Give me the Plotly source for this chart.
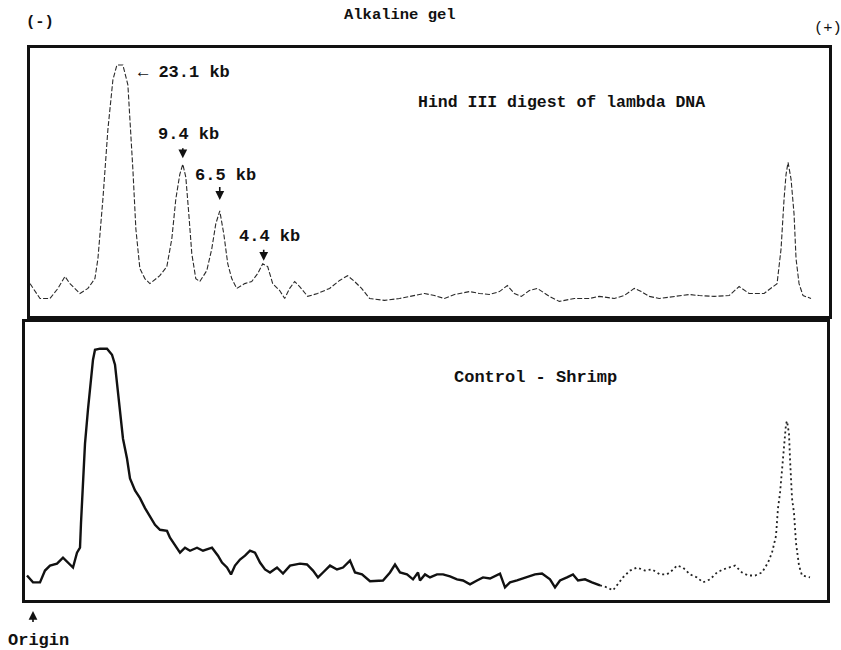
import plotly.graph_objects as go

# Densitometer scan of an alkaline agarose gel (scan position, relative absorbance %)
# Lane 1: Hind III digest of lambda DNA (size marker)
marker_pos = [0, 10, 20, 28, 35, 40, 50, 58, 65, 68, 73, 78, 83, 87, 93, 98, 103, 106, 110,
              115, 120, 130, 137, 142, 146, 150, 153, 156, 159, 162, 166, 170, 177, 182, 186,
              190, 194, 198, 202, 207, 215, 222, 228, 233, 238, 243, 250, 255, 260, 265, 270,
              278, 288, 300, 310, 318, 325, 332, 340, 355, 370, 380, 395, 405, 415, 425, 440,
              450, 460, 470, 478, 485, 492, 500, 508, 520, 530, 545, 560, 570, 585, 595, 605,
              612, 620, 630, 645, 660, 670, 685, 700, 710, 720, 735, 748, 752, 755, 757, 759,
              762, 765, 767, 770, 774, 782]
marker_abs = [11.2, 5.6, 5.6, 9.4, 13.9, 11.2, 7.5, 9.4, 13.1, 20.6, 43.1, 69.3, 88.0, 93.6,
              93.6, 86.1, 54.3, 31.8, 16.9, 13.1, 11.2, 14.2, 17.6, 28.1, 43.1, 52.4, 56.2,
              51.3, 37.5, 22.5, 13.1, 12.0, 16.1, 24.3, 33.7, 38.6, 30.0, 18.7, 13.1, 9.4, 11.2,
              12.0, 15.0, 18.7, 17.6, 11.2, 8.6, 5.6, 9.4, 12.0, 10.1, 6.4, 7.5, 9.4, 12.4, 14.2,
              12.0, 9.4, 5.6, 4.9, 5.6, 6.4, 7.5, 6.7, 5.6, 7.1, 8.2, 7.5, 7.1, 8.2, 10.5, 7.5,
              6.4, 8.6, 9.4, 6.4, 4.5, 5.6, 5.6, 6.4, 5.6, 6.7, 9.4, 8.2, 6.4, 5.6, 6.4, 7.1,
              6.7, 6.4, 6.7, 10.1, 7.5, 7.5, 11.2, 24.3, 43.1, 52.4, 56.9, 50.6, 37.5, 20.6,
              11.2, 6.7, 5.6]

# Marker bands: size label, scan position and height of each band maximum
band_labels = ["23.1 kb", "9.4 kb", "6.5 kb", "4.4 kb"]
band_pos = [90, 153, 190, 234]
band_abs = [93.6, 56.2, 38.6, 18.7]

# Lane 2: control shrimp DNA
shrimp_pos = [2, 8, 15, 20, 25, 32, 38, 43, 48, 52, 55, 56, 58, 60, 63, 66, 68, 70, 75, 82,
              87, 90, 92, 95, 98, 102, 105, 110, 115, 120, 125, 130, 135, 142, 145, 150, 155,
              160, 165, 172, 178, 187, 193, 197, 202, 206, 210, 215, 220, 225, 230, 235, 240,
              245, 252, 258, 265, 275, 282, 288, 293, 298, 305, 312, 318, 325, 330, 337, 345,
              358, 365, 370, 375, 382, 388, 393, 395, 400, 405, 412, 418, 425, 432, 438, 445,
              452, 458, 465, 475, 480, 485, 492, 500, 510, 517, 525, 530, 535, 542, 548, 553,
              560, 567, 575, 582, 588, 593, 598, 605, 612, 620, 627, 635, 642, 647, 652, 658,
              665, 672, 678, 685, 692, 698, 705, 710, 717, 723, 730, 737, 743, 747, 751, 753,
              755, 757, 759, 761, 762, 764, 765, 767, 769, 771, 774, 777, 785]
shrimp_abs = [7.9, 5.4, 5.4, 9.7, 11.5, 12.2, 14.4, 12.6, 10.8, 16.2, 18.0, 27.0, 39.6, 55.8,
              68.3, 79.9, 86.3, 89.9, 90.3, 90.3, 88.1, 84.5, 77.3, 68.3, 57.6, 50.4, 43.2, 38.8,
              36.0, 32.4, 29.5, 26.3, 24.5, 24.1, 21.6, 18.7, 16.2, 18.0, 16.9, 18.0, 16.9, 18.0,
              15.1, 12.6, 10.8, 8.3, 11.5, 13.7, 15.1, 16.9, 16.2, 12.6, 10.1, 9.0, 10.8, 8.6,
              11.5, 12.2, 11.9, 9.7, 7.2, 9.0, 11.5, 10.1, 10.8, 13.3, 9.0, 8.3, 5.8, 6.1, 9.0,
              11.9, 9.0, 8.3, 6.5, 9.0, 6.1, 8.3, 7.2, 8.3, 8.3, 7.6, 6.5, 6.1, 4.7, 6.1, 7.2,
              6.8, 8.6, 3.6, 5.4, 6.1, 7.2, 8.3, 8.6, 6.5, 3.6, 6.1, 7.2, 8.3, 6.1, 6.5, 5.4,
              4.3, 3.6, 2.5, 4.7, 7.2, 9.7, 10.8, 9.7, 10.1, 8.3, 8.3, 9.7, 11.5, 10.8, 8.3, 7.2,
              5.4, 6.5, 9.0, 10.1, 10.8, 11.5, 9.0, 7.9, 7.9, 9.0, 12.6, 16.2, 22.3, 32.4, 37.8,
              46.8, 55.8, 62.9, 64.0, 59.4, 50.4, 36.0, 30.6, 19.8, 11.5, 7.9, 7.2]

FONT = "Liberation Mono, Courier New, monospace"
INK = "#111111"

fig = go.Figure()

# marker lane: faint broken trace
fig.add_trace(go.Scatter(x=marker_pos, y=marker_abs, mode="lines",
                         line=dict(color="#2a2a2a", width=1.1, dash="5px,2px"),
                         xaxis="x", yaxis="y", hoverinfo="skip"))

# shrimp lane: heavy pen stroke, then the lighter dotted tail
split = next(i for i, p in enumerate(shrimp_pos) if p >= 575)
fig.add_trace(go.Scatter(x=shrimp_pos[:split + 1], y=shrimp_abs[:split + 1], mode="lines",
                         line=dict(color=INK, width=2.4),
                         xaxis="x2", yaxis="y2", hoverinfo="skip"))
fig.add_trace(go.Scatter(x=shrimp_pos[split:], y=shrimp_abs[split:], mode="lines",
                         line=dict(color="#222222", width=1.8, dash="2px,3px"),
                         xaxis="x2", yaxis="y2", hoverinfo="skip"))

frame = dict(showline=True, mirror=True, linecolor=INK, linewidth=3, showgrid=False,
             zeroline=False, showticklabels=False, ticks="", fixedrange=True)


def text_note(x, y, text, size=16, ref=("paper", "paper"), **kw):
    note = dict(x=x, y=y, xref=ref[0], yref=ref[1], text=text, showarrow=False,
                xanchor="center", yanchor="middle",
                font=dict(family=FONT, size=size, color=INK))
    note.update(kw)
    return note


def arrow_note(x, y, ax, ay, standoff, ref=("paper", "paper")):
    return dict(x=x, y=y, xref=ref[0], yref=ref[1], text=" ", showarrow=True,
                ax=ax, ay=ay, standoff=standoff, arrowhead=2, arrowsize=1.1,
                arrowwidth=1.6, arrowcolor=INK, font=dict(size=1))


annotations = []

# band size labels with arrows; offsets in pixels above each band maximum
arrow_tail = {1: 18, 2: 26, 3: 16}
arrow_gap = {1: 6, 2: 11, 3: 3}
label_rise = {1: 30, 2: 35, 3: 27}
for i, (lab, bx, by) in enumerate(zip(band_labels, band_pos, band_abs)):
    if i == 0:
        annotations.append(text_note(bx, by, "<b>\u2190 " + lab + "</b>", size=17,
                                     ref=("x", "y"), xanchor="left", xshift=16, yshift=-8))
    else:
        annotations.append(arrow_note(bx, by, 0, -arrow_tail[i], arrow_gap[i], ref=("x", "y")))
        annotations.append(text_note(bx, by, "<b>" + lab + "</b>", size=17, ref=("x", "y"),
                                     xshift=6, yshift=label_rise[i]))

# panel captions
annotations.append(text_note(561 / 841, 1 - 103 / 650, "<b>Hind III digest of lambda DNA</b>",
                             size=16.5))
annotations.append(text_note(535 / 841, 1 - 377 / 650, "<b>Control - Shrimp</b>", size=17))

# gel header and electrode polarity
annotations.append(text_note(400 / 841, 1 - 15 / 650, "<b>Alkaline gel</b>", size=15.5))
annotations.append(text_note(40 / 841, 1 - 22 / 650, "<b>(-)</b>", size=15.5))
annotations.append(text_note(828 / 841, 1 - 28 / 650, "(+)", size=15.5))

# origin marker below the lane start
annotations.append(arrow_note(33 / 841, 1 - 611 / 650, 0, 13, 0))
annotations.append(text_note(38 / 841, 1 - 640 / 650, "<b>Origin</b>", size=17))

fig.update_layout(
    width=841, height=650,
    margin=dict(l=0, r=0, t=0, b=0),
    paper_bgcolor="white", plot_bgcolor="white",
    showlegend=False,
    xaxis=dict(domain=[30 / 841, 829 / 841], range=[0, 800], anchor="y", **frame),
    yaxis=dict(domain=[1 - 316 / 650, 1 - 48 / 650], range=[-1, 100], anchor="x", **frame),
    xaxis2=dict(domain=[25 / 841, 827 / 841], range=[0, 802], anchor="y2", **frame),
    yaxis2=dict(domain=[1 - 600 / 650, 1 - 322 / 650], range=[-1, 100], anchor="x2", **frame),
    annotations=annotations,
)

fig.write_html("out.html")
